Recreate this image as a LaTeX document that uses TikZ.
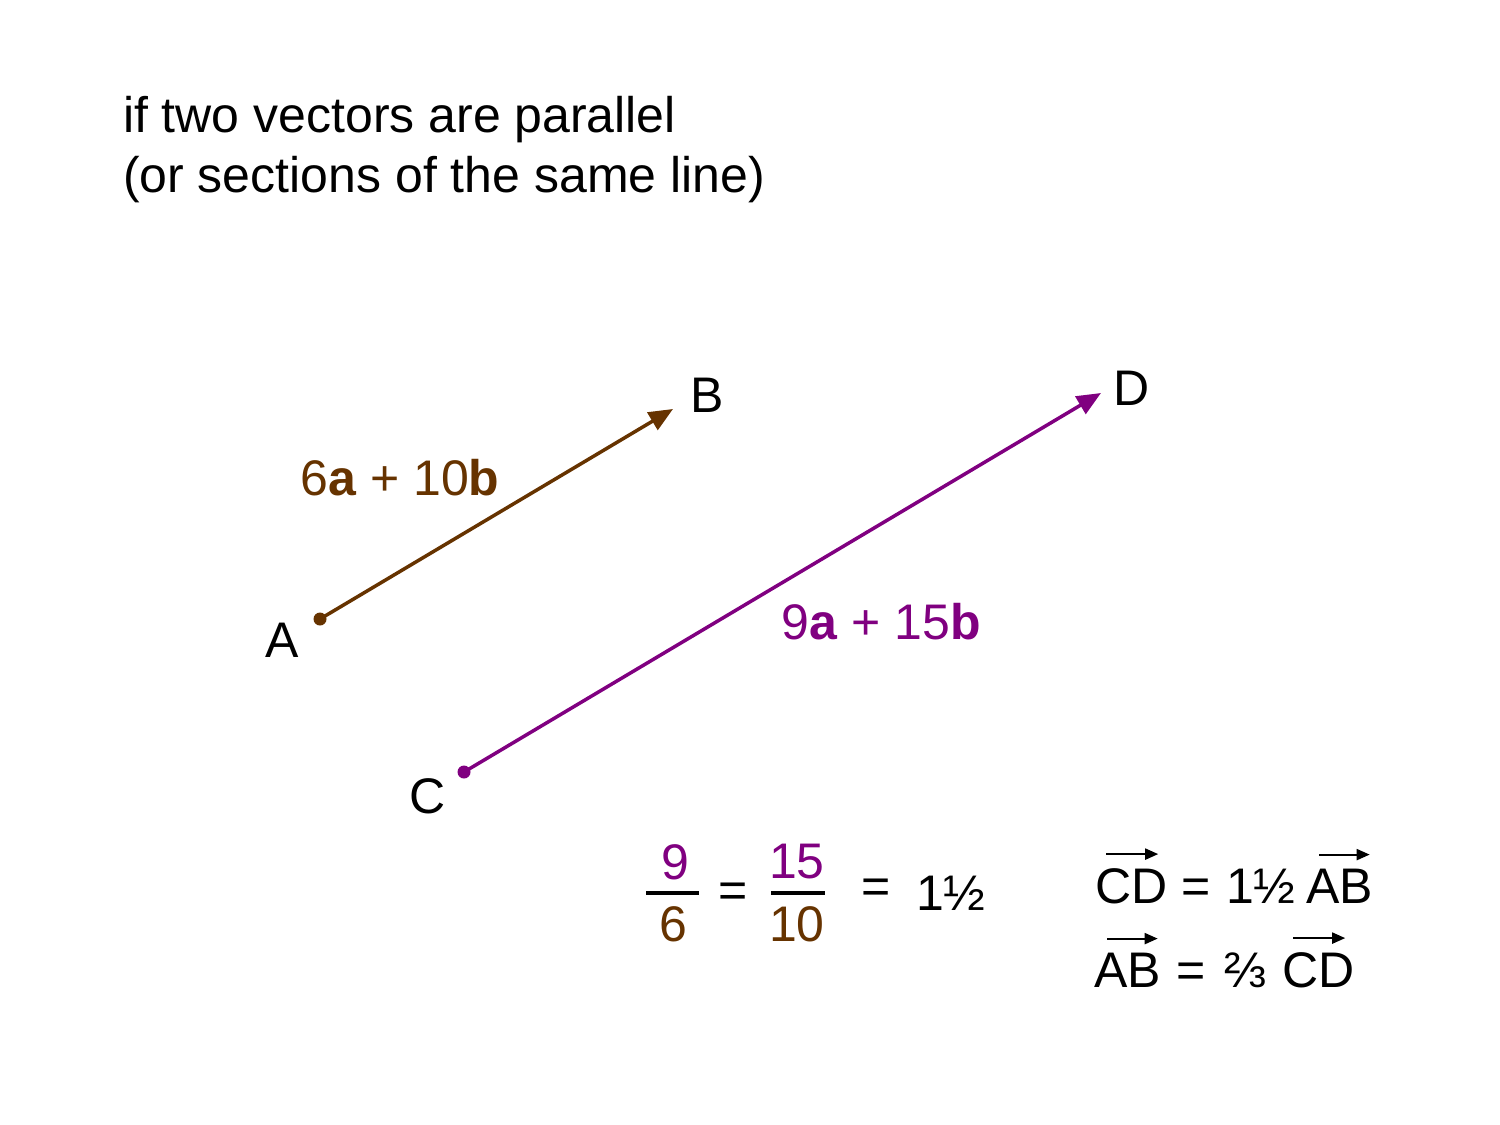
\documentclass[tikz,border=0pt]{standalone}
\usepackage{fontspec}
\setmainfont{Liberation Sans}
\usetikzlibrary{arrows.meta}
\definecolor{brn}{HTML}{663300}
\definecolor{prp}{HTML}{800080}
\begin{document}
\begin{tikzpicture}[x=0.5pt,y=-0.5pt,
  txt/.style={inner sep=0pt, outer sep=0pt, font=\fontsize{25}{30}\selectfont},
  vecline/.style={line width=1.75pt, -{Triangle[length=12pt,width=10pt]}},
  dotnode/.style={circle, fill, inner sep=0pt, minimum size=6.5pt},
  bar/.style={line width=1.6pt},
  overarrow/.style={line width=1pt, -{Triangle[length=6.5pt,width=5.5pt]}}]
\useasboundingbox (0,0) rectangle (1500,1125);
% title
\node[txt, anchor=base west] (t1) at (123,132) {if two vectors are parallel};
\node[txt, anchor=base west] (t2) at (123,192) {(or sections of the same line)};
% vector AB
\node[dotnode, brn] (A) at (320,619) {};
\coordinate (Btip) at (673,409);
\draw[vecline, brn] (A.center) -- (Btip);
\node[txt] (lA) at (282,640) {A};
\node[txt] (lB) at (707,395) {B};
\node[txt, text=brn] (lab1) at (400,478) {6\textbf{a} + 10\textbf{b}};
% vector CD
\node[dotnode, prp] (C) at (464,772) {};
\coordinate (Dtip) at (1101,393);
\draw[vecline, prp] (C.center) -- (Dtip);
\node[txt] (lC) at (428,796) {C};
\node[txt] (lD) at (1132,388) {D};
\node[txt, text=prp] (lab2) at (881,622) {9\textbf{a} + 15\textbf{b}};
% fractions
\node[txt, text=prp] (n1) at (675,862) {9};
\node[txt, text=brn] (d1) at (673,924) {6};
\coordinate (b1l) at (646,893); \coordinate (b1r) at (699,893);
\draw[bar] (b1l) -- (b1r);
\node[txt] (eq1) at (733,895) {=};
\node[txt, text=prp] (n2) at (797,862) {15};
\node[txt, text=brn] (d2) at (797,924) {10};
\coordinate (b2l) at (771,893); \coordinate (b2r) at (825,893);
\draw[bar] (b2l) -- (b2r);
\node[txt] (eq2) at (876,891) {=};
\node[txt, anchor=base west] (r1) at (916,910) {1½};
% right equations
\node[txt, anchor=base west] (cd1) at (1095,903) {CD};
\node[txt, anchor=base west] (e3) at (1181,903) {=};
\node[txt, anchor=base west] (h1) at (1226,903) {1½};
\node[txt, anchor=base west] (ab1) at (1306,903) {AB};
\draw[overarrow] ([xshift=5.5pt,yshift=7pt]cd1.north west) -- ([xshift=-4.5pt,yshift=7pt]cd1.north east);
\draw[overarrow] ([xshift=6.5pt,yshift=7pt]ab1.north west) -- ([xshift=-1.5pt,yshift=7pt]ab1.north east);
\node[txt, anchor=base west] (ab2) at (1094,987) {AB};
\node[txt, anchor=base west] (e4) at (1176,987) {=};
\node[txt, anchor=base west] (h2) at (1224,987) {⅔};
\node[txt, anchor=base west] (cd2) at (1282,987) {CD};
\draw[overarrow] ([xshift=6.5pt,yshift=7pt]ab2.north west) -- ([xshift=-1.5pt,yshift=7pt]ab2.north east);
\draw[overarrow] ([xshift=5.5pt,yshift=7pt]cd2.north west) -- ([xshift=-4.5pt,yshift=7pt]cd2.north east);
\end{tikzpicture}
\end{document}
